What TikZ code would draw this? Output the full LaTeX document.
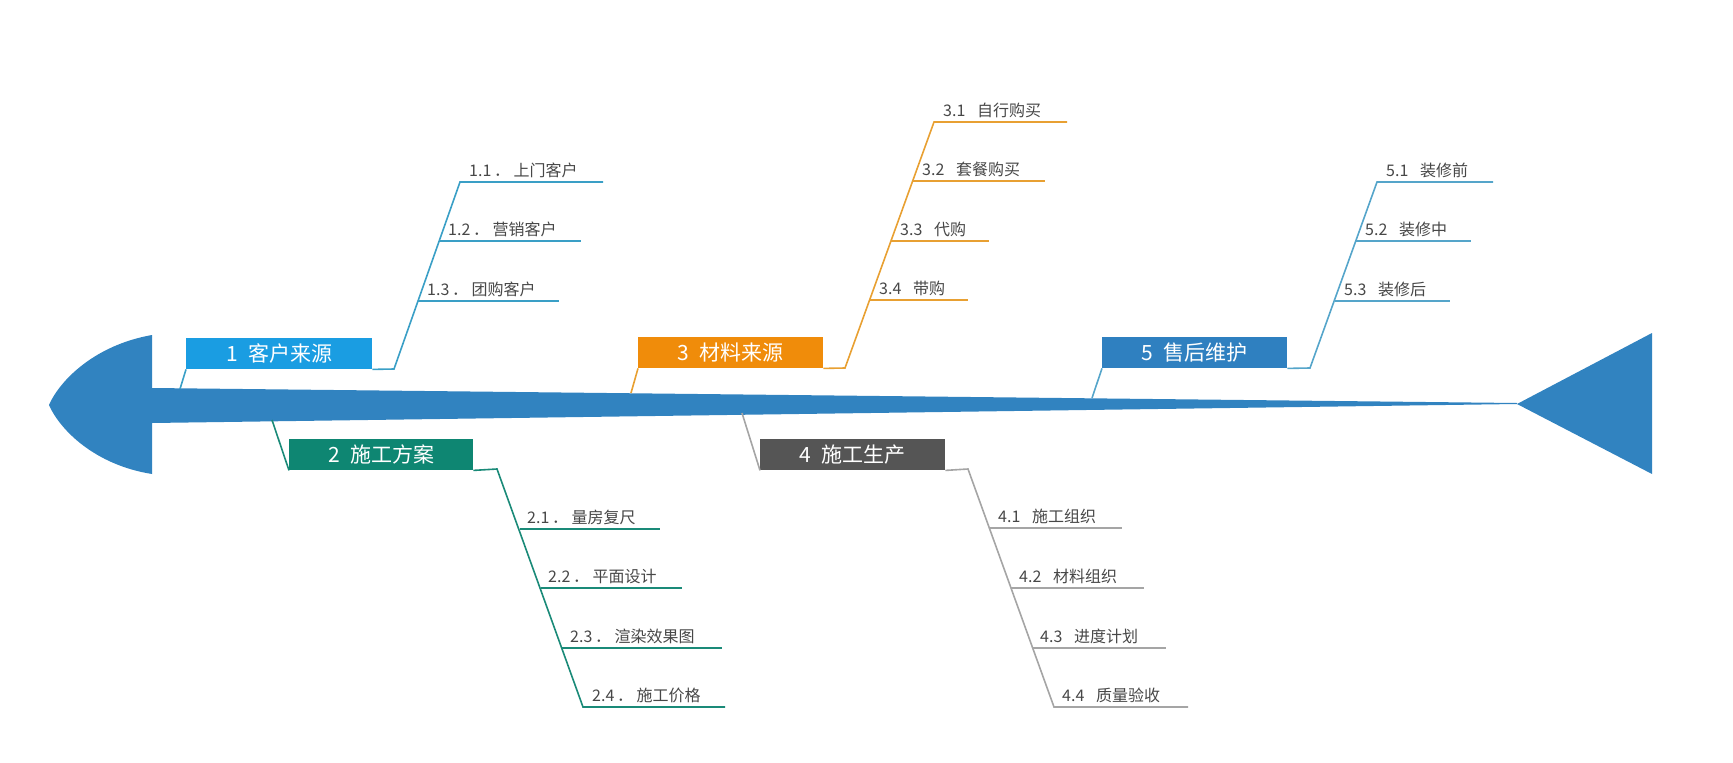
\documentclass[tikz,border=0pt]{standalone}
\usepackage{fontspec}
\setmainfont{Noto Sans CJK SC}
\begin{document}
\begin{tikzpicture}[x=1pt,y=-1pt,
  topic/.style={anchor=north west,inner sep=0pt,text=white,font=\fontsize{21}{21}\selectfont,align=center},
  sub/.style={anchor=south west,inner sep=0pt,text=black!72,font=\fontsize{16}{16}\selectfont},
  l1/.style={draw=c1l,line width=1.6pt}, l2/.style={draw=c2l,line width=1.6pt},
  l3/.style={draw=c3l,line width=1.6pt}, l4/.style={draw=c4l,line width=1.6pt},
  l5/.style={draw=c5l,line width=1.6pt}]
\definecolor{spine}{HTML}{3183C0}
\definecolor{c1}{HTML}{1A9DE2}\definecolor{c1l}{HTML}{3A9FC6}
\definecolor{c2}{HTML}{0E8672}\definecolor{c2l}{HTML}{1A8A78}
\definecolor{c3}{HTML}{F08C0A}\definecolor{c3l}{HTML}{E8A032}
\definecolor{c4}{HTML}{555555}\definecolor{c4l}{HTML}{A5A5A5}
\definecolor{c5}{HTML}{2F80C0}\definecolor{c5l}{HTML}{55A5CA}
\useasboundingbox (0,0) rectangle (1733,763);
% spine
\fill[spine] (152,335) .. controls (95,345) and (60,380) .. (49,405) .. controls (60,430) and (95,465) .. (152,474) -- (152,423) -- (1517,404) -- (1517,403) -- (152,388) -- cycle;
\fill[spine] (1517,404) -- (1652,333) -- (1652,474) -- cycle;
% topics
\node[topic,fill=c1,minimum width=186pt,minimum height=31pt] (t1) at (186,338) {1\enspace 客户来源};
\node[topic,fill=c3,minimum width=185pt,minimum height=31pt] (t3) at (638,337) {3\enspace 材料来源};
\node[topic,fill=c5,minimum width=185pt,minimum height=31pt] (t5) at (1102,337) {5\enspace 售后维护};
\node[topic,fill=c2,minimum width=184pt,minimum height=31pt] (t2) at (289,439) {2\enspace 施工方案};
\node[topic,fill=c4,minimum width=185pt,minimum height=31pt] (t4) at (760,439) {4\enspace 施工生产};
% spine connectors
\coordinate (s1) at (180,389); \coordinate (s3) at (631,393); \coordinate (s5) at (1092,398);
\coordinate (s2) at (272,420); \coordinate (s4) at (742,413);
\draw[l1] (s1) -- (t1.south west);
\draw[l3] (s3) -- (t3.south west);
\draw[l5] (s5) -- (t5.south west);
\draw[l2] (s2) -- (t2.south west);
\draw[l4] (s4) -- (t4.south west);
% branch 1
\coordinate (b1) at (394,369);
\draw[l1] (t1.south east) -- (b1) -- (460,182) -- (603,182);
\draw[l1] (439,241) -- (581,241); \draw[l1] (418,301) -- (559,301);
\node[sub] (n11) at (469,178) {1.1\,．\ 上门客户};
\node[sub] (n12) at (448,237) {1.2\,．\ 营销客户};
\node[sub] (n13) at (427,297) {1.3\,．\ 团购客户};
% branch 3
\coordinate (b3) at (845,368);
\draw[l3] (t3.south east) -- (b3) -- (934,122) -- (1067,122);
\draw[l3] (913,181) -- (1045,181); \draw[l3] (891,241) -- (989,241); \draw[l3] (870,300) -- (968,300);
\node[sub] (n31) at (943,118) {3.1\enspace\ 自行购买};
\node[sub] (n32) at (922,177) {3.2\enspace\ 套餐购买};
\node[sub] (n33) at (900,237) {3.3\enspace\ 代购};
\node[sub] (n34) at (879,296) {3.4\enspace\ 带购};
% branch 5
\coordinate (b5) at (1310,368);
\draw[l5] (t5.south east) -- (b5) -- (1377,182) -- (1493,182);
\draw[l5] (1356,241) -- (1471,241); \draw[l5] (1335,301) -- (1450,301);
\node[sub] (n51) at (1386,178) {5.1\enspace\ 装修前};
\node[sub] (n52) at (1365,237) {5.2\enspace\ 装修中};
\node[sub] (n53) at (1344,297) {5.3\enspace\ 装修后};
% branch 2
\coordinate (b2) at (497,469);
\draw[l2] (t2.south east) -- (b2) -- (583,707) -- (725,707);
\draw[l2] (520,529) -- (660,529); \draw[l2] (541,588) -- (682,588); \draw[l2] (561,648) -- (722,648);
\node[sub] (n21) at (527,525) {2.1\,．\ 量房复尺};
\node[sub] (n22) at (548,584) {2.2\,．\ 平面设计};
\node[sub] (n23) at (570,644) {2.3\,．\ 渲染效果图};
\node[sub] (n24) at (592,703) {2.4\,．\ 施工价格};
% branch 4
\coordinate (b4) at (968,469);
\draw[l4] (t4.south east) -- (b4) -- (1054,707) -- (1188,707);
\draw[l4] (990,528) -- (1122,528); \draw[l4] (1011,588) -- (1144,588); \draw[l4] (1032,648) -- (1166,648);
\node[sub] (n41) at (998,524) {4.1\enspace\ 施工组织};
\node[sub] (n42) at (1019,584) {4.2\enspace\ 材料组织};
\node[sub] (n43) at (1040,644) {4.3\enspace\ 进度计划};
\node[sub] (n44) at (1062,703) {4.4\enspace\ 质量验收};
\end{tikzpicture}
\end{document}
